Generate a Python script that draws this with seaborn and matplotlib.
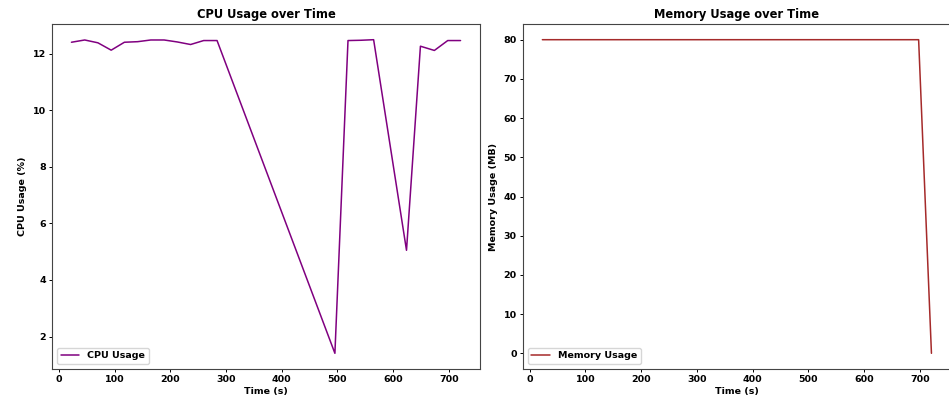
import matplotlib
matplotlib.use("Agg")
import matplotlib.pyplot as plt
import seaborn as sns
import pandas as pd

# czasy probek (s)
time_s = [22.7, 46.5, 70.2, 94, 117.7, 141.5, 165, 189, 212.7, 236.5, 260, 284,
          495.5, 519, 542, 565, 624, 649, 674, 698, 721]

cpu_usage = [12.40, 12.48, 12.38, 12.12, 12.40, 12.42, 12.48, 12.48, 12.41, 12.32, 12.46, 12.46,
             1.41, 12.46, 12.47, 12.49, 5.05, 12.26, 12.11, 12.46, 12.46]

memory_usage = [80, 80, 80, 80, 80, 80, 80, 80, 80, 80, 80, 80,
                80, 80, 80, 80, 80, 80, 80, 80, 0]

df = pd.DataFrame({"time": time_s, "cpu": cpu_usage, "mem": memory_usage})

sns.set_style("ticks")
plt.rcParams["font.family"] = ["DejaVu Sans"]
plt.rcParams["font.weight"] = "bold"
plt.rcParams["axes.labelweight"] = "bold"
plt.rcParams["axes.titleweight"] = "bold"
plt.rcParams["text.color"] = "black"
plt.rcParams["axes.labelcolor"] = "black"
plt.rcParams["xtick.color"] = "black"
plt.rcParams["ytick.color"] = "black"

fig = plt.figure(figsize=(9.49, 4.03), dpi=100)
ax1 = fig.add_axes([0.0548, 0.0844, 0.451, 0.856])
ax2 = fig.add_axes([0.551, 0.0844, 0.451, 0.856])

#wykres cpu
sns.lineplot(data=df, x="time", y="cpu", ax=ax1, color="purple", linewidth=1.1, label="CPU Usage")
ax1.set_title("CPU Usage over Time", fontsize=8.3, pad=4)
ax1.set_xlabel("Time (s)", fontsize=6.8, labelpad=2)
ax1.set_ylabel("CPU Usage (%)", fontsize=6.8, labelpad=4)
ax1.legend(loc="lower left", fontsize=6.8)

#wykres pamieci
sns.lineplot(data=df, x="time", y="mem", ax=ax2, color="brown", linewidth=1.1, label="Memory Usage")
ax2.set_title("Memory Usage over Time", fontsize=8.3, pad=4)
ax2.set_xlabel("Time (s)", fontsize=6.8, labelpad=2)
ax2.set_ylabel("Memory Usage (MB)", fontsize=6.8, labelpad=4)
ax2.legend(loc="lower left", fontsize=6.8)

for ax in (ax1, ax2):
    ax.tick_params(labelsize=6.8, length=2.5, width=0.7, pad=2)
    ax.set_xticks([0, 100, 200, 300, 400, 500, 600, 700])
    for s in ax.spines.values():
        s.set_visible(True)
        s.set_linewidth(0.8)
        s.set_color("#444444")

fig.savefig("out.png", dpi=100)
